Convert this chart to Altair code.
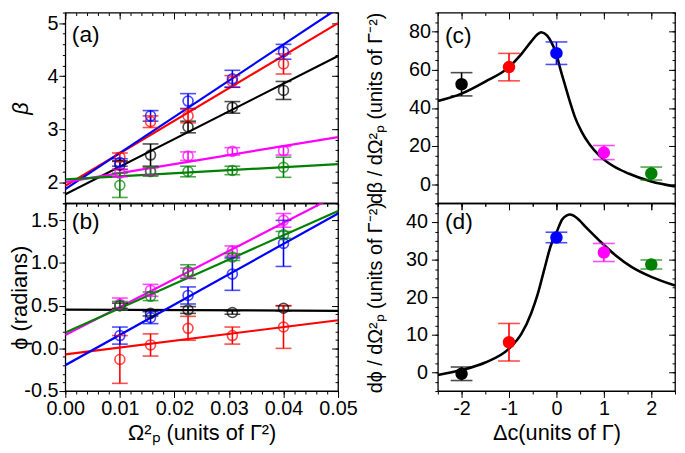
import altair as alt
import pandas as pd

FONT = "Liberation Sans"

# ---------------- data ----------------
OMEGA_P2 = [0.01, 0.015625, 0.0225, 0.030625, 0.04]
SERIES = ["black", "red", "blue", "magenta", "green"]
SERIES_COLORS = ["#000000", "#ff0000", "#0000ff", "#ff00ff", "#008000"]
DELTA_C = [-2, -1, 0, 1, 2]

# panel (a): beta
BETA_BLACK = [2.32, 2.51, 3.04, 3.41, 3.73]
BETA_RED = [2.47, 3.14, 3.25, 3.90, 4.23]
BETA_BLUE = [2.37, 3.25, 3.53, 3.95, 4.46]
BETA_MAGENTA = [2.17, 2.20, 2.49, 2.58, 2.59]
BETA_GREEN = [1.94, 2.20, 2.20, 2.22, 2.28]
BETA_ERR_BLACK = [0.08, 0.21, 0.11, 0.11, 0.17]
BETA_ERR_RED = [0.08, 0.11, 0.13, 0.11, 0.19]
BETA_ERR_BLUE = [0.07, 0.10, 0.14, 0.16, 0.14]
BETA_ERR_MAGENTA = [0.07, 0.07, 0.08, 0.07, 0.08]
BETA_ERR_GREEN = [0.23, 0.09, 0.10, 0.08, 0.19]

FIT_X = [0.0, 0.05]
BETA_FIT_BLACK = [1.77, 4.38]
BETA_FIT_RED = [1.93, 5.00]
BETA_FIT_BLUE = [1.87, 5.28]
BETA_FIT_MAGENTA = [2.00, 2.85]
BETA_FIT_GREEN = [2.05, 2.34]

# panel (b): phi
PHI_BLACK = [0.50, 0.41, 0.45, 0.42, 0.47]
PHI_RED = [-0.13, 0.04, 0.235, 0.15, 0.25]
PHI_BLUE = [0.15, 0.36, 0.62, 0.87, 1.23]
PHI_MAGENTA = [0.52, 0.68, 0.88, 1.14, 1.50]
PHI_GREEN = [0.50, 0.61, 0.90, 1.07, 1.33]
PHI_ERR_BLACK = [0.03, 0.03, 0.04, 0.02, 0.03]
PHI_ERR_RED = [0.28, 0.13, 0.14, 0.10, 0.25]
PHI_ERR_BLUE = [0.10, 0.07, 0.10, 0.19, 0.27]
PHI_ERR_MAGENTA = [0.07, 0.07, 0.06, 0.06, 0.08]
PHI_ERR_GREEN = [0.05, 0.05, 0.08, 0.04, 0.04]
PHI_FIT_BLACK = [0.455, 0.44]
PHI_FIT_RED = [-0.07, 0.33]
PHI_FIT_BLUE = [-0.197, 1.58]
PHI_FIT_MAGENTA = [0.155, 1.80]
PHI_FIT_GREEN = [0.186, 1.61]

# panel (c): d beta / d Omega^2
DBETA = [52.4, 61.4, 68.7, 16.6, 5.6]
DBETA_ERR = [6.1, 7.2, 5.9, 3.7, 3.4]
CURVE_C_X = [-2.5, -2.0, -1.5, -1.0, -0.74, -0.53, -0.4, -0.32, -0.2, -0.1,
             0.0, 0.08, 0.19, 0.29, 0.39, 0.53, 0.70, 0.91, 1.18, 1.52, 2.0, 2.5]
CURVE_C_Y = [43.6, 47.5, 53.8, 61.4, 68.2, 74.9, 78.6, 79.7, 78.0, 74.1,
             68.2, 60.6, 51.2, 42.8, 35.2, 27.6, 20.8, 14.9, 9.8, 5.6, 1.4, -1.2]

# panel (d): d phi / d Omega^2
DPHI = [-0.4, 8.0, 35.9, 31.9, 28.7]
DPHI_ERR = [1.8, 5.0, 1.4, 2.4, 1.2]
CURVE_D_X = [-2.5, -2.0, -1.5, -1.0, -0.74, -0.53, -0.4, -0.26, -0.12, 0.0,
             0.12, 0.22, 0.29, 0.43, 0.63, 0.91, 1.25, 1.59, 2.0, 2.5]
CURVE_D_Y = [-0.7, 0.6, 2.6, 6.3, 10.2, 15.8, 20.6, 27.2, 33.7, 37.2,
             40.7, 41.8, 42.0, 41.1, 38.5, 35.0, 31.1, 28.0, 25.4, 23.1]

# tick values
X_MAJOR_AB = [0.0, 0.01, 0.02, 0.03, 0.04, 0.05]
X_MINOR_AB = [round(0.002 * i, 3) for i in range(26)]
Y_MAJOR_A = [2, 3, 4, 5]
Y_MINOR_A = [round(1.6 + 0.2 * i, 1) for i in range(19)]
Y_MAJOR_B = [-0.5, 0.0, 0.5, 1.0, 1.5]
Y_MINOR_B = [round(-0.5 + 0.1 * i, 1) for i in range(23)]
X_MAJOR_CD = [-2, -1, 0, 1, 2]
X_MINOR_CD = [-2.5 + 0.5 * i for i in range(11)]
Y_MAJOR_C = [0, 20, 40, 60, 80]
Y_MINOR_C = [-10 + 5 * i for i in range(21)]
Y_MAJOR_D = [0, 10, 20, 30, 40]
Y_MINOR_D = [-5 + 2.5 * i for i in range(21)]


def points_frame(xs, names, ys_list, errs_list):
    rows = []
    for name, ys, es in zip(names, ys_list, errs_list):
        for x, y, e in zip(xs, ys, es):
            rows.append({"x": x, "y": y, "lo": y - e, "hi": y + e, "s": name})
    return pd.DataFrame(rows)


def fits_frame(names, fits):
    rows = []
    for name, ys in zip(names, fits):
        for x, y in zip(FIT_X, ys):
            rows.append({"x": x, "y": y, "s": name})
    return pd.DataFrame(rows)


pts_a = points_frame(OMEGA_P2, SERIES,
                     [BETA_BLACK, BETA_RED, BETA_BLUE, BETA_MAGENTA, BETA_GREEN],
                     [BETA_ERR_BLACK, BETA_ERR_RED, BETA_ERR_BLUE, BETA_ERR_MAGENTA, BETA_ERR_GREEN])
fit_a = fits_frame(SERIES, [BETA_FIT_BLACK, BETA_FIT_RED, BETA_FIT_BLUE, BETA_FIT_MAGENTA, BETA_FIT_GREEN])
pts_b = points_frame(OMEGA_P2, SERIES,
                     [PHI_BLACK, PHI_RED, PHI_BLUE, PHI_MAGENTA, PHI_GREEN],
                     [PHI_ERR_BLACK, PHI_ERR_RED, PHI_ERR_BLUE, PHI_ERR_MAGENTA, PHI_ERR_GREEN])
fit_b = fits_frame(SERIES, [PHI_FIT_BLACK, PHI_FIT_RED, PHI_FIT_BLUE, PHI_FIT_MAGENTA, PHI_FIT_GREEN])
pts_c = pd.DataFrame({"x": DELTA_C, "y": DBETA,
                      "lo": [v - e for v, e in zip(DBETA, DBETA_ERR)],
                      "hi": [v + e for v, e in zip(DBETA, DBETA_ERR)], "s": SERIES})
pts_d = pd.DataFrame({"x": DELTA_C, "y": DPHI,
                      "lo": [v - e for v, e in zip(DPHI, DPHI_ERR)],
                      "hi": [v + e for v, e in zip(DPHI, DPHI_ERR)], "s": SERIES})
curve_c = pd.DataFrame({"x": CURVE_C_X, "y": CURVE_C_Y, "s": "fit"})
curve_d = pd.DataFrame({"x": CURVE_D_X, "y": CURVE_D_Y, "s": "fit"})

MAJOR = 6.5
MINOR = 3.0


# ---------------- axes helpers ----------------
def out_ticks(orient, values, size):
    return alt.Axis(orient=orient, values=values, ticks=True, tickSize=size, tickColor="black",
                    tickWidth=1, labels=False, domain=False, grid=False, title=None)


def in_ticks(orient, values, size):
    return alt.Axis(orient=orient, values=values, ticks=True, tickSize=size, offset=-size,
                    tickColor="black", tickWidth=1, labels=False, domain=False, grid=False,
                    title=None, minExtent=0)


def lab_axis(orient, values, fmt, title, pos, tsize=22, style="normal", pad=1):
    kw = dict(orient=orient, values=values, format=fmt, title=title, ticks=True, tickSize=MAJOR,
              tickColor="black", tickWidth=1, domain=False, grid=False, labels=True,
              labelExpr="replace(datum.label, '\u2212', '-')",
              labelFontSize=20, labelColor="black", labelPadding=pad, labelFlush=False,
              labelOverlap=False, labelFont=FONT, titleFont=FONT, titleFontSize=tsize,
              titleFontWeight="normal", titleFontStyle=style, titleColor="black",
              titleBaseline="middle")
    if orient == "left":
        kw["titleX"] = pos
    else:
        kw["titleY"] = pos
    return alt.Axis(**kw)


def panel(pts, line_df, xdom, ydom, w, h, xaxes, yaxes, cap, filled, label, lx, ly, curve):
    xsc = alt.Scale(domain=xdom, nice=False, zero=False)
    ysc = alt.Scale(domain=ydom, nice=False, zero=False)
    col = alt.Color("s:N", scale=alt.Scale(domain=SERIES, range=SERIES_COLORS), legend=None)

    def X(i, f="x"):
        return alt.X(f, type="quantitative", scale=xsc, axis=xaxes[i] if i < len(xaxes) else None)

    def Y(i, f):
        return alt.Y(f, type="quantitative", scale=ysc, axis=yaxes[i] if i < len(yaxes) else None)

    if curve:
        line = alt.Chart(line_df).mark_line(color="black", strokeWidth=2.6,
                                            interpolate="monotone", clip=True).encode(
            x=X(0), y=Y(0, "y"))
    else:
        line = alt.Chart(line_df).mark_line(strokeWidth=2.2, clip=True).encode(
            x=X(0), y=Y(0, "y"), color=col, detail="s:N")
    rules = alt.Chart(pts).mark_rule(strokeWidth=1.6).encode(
        x=X(1), y=Y(1, "lo"), y2="hi:Q", color=col)
    cap_lo = alt.Chart(pts).mark_tick(orient="horizontal", size=cap, thickness=1.6).encode(
        x=X(2), y=Y(2, "lo"), color=col)
    cap_hi = alt.Chart(pts).mark_tick(orient="horizontal", size=cap, thickness=1.6).encode(
        x=X(3), y=Y(3, "hi"), color=col)
    if filled:
        dots = alt.Chart(pts).mark_circle(size=160, opacity=1).encode(
            x=X(9), y=Y(9, "y"), color=col)
    else:
        dots = alt.Chart(pts).mark_point(shape="circle", filled=False, size=100,
                                         strokeWidth=1.7).encode(
            x=X(9), y=Y(9, "y"), color=col)
    txt = alt.Chart(pd.DataFrame({"x": [lx], "y": [ly], "t": [label]})).mark_text(
        align="left", baseline="middle", fontSize=23, font=FONT, color="black").encode(
        x=X(9), y=Y(9, "y"), text="t:N")
    return alt.layer(line, rules, cap_lo, cap_hi, dots, txt).resolve_axis(
        x="independent", y="independent").properties(width=w, height=h)


W_L, W_R = 276, 240
H_TOP, H_BOT = 193, 190

pa = panel(pts_a, fit_a, [0, 0.05], [1.6, 5.2], W_L, H_TOP,
           [out_ticks("bottom", X_MAJOR_AB, MAJOR), out_ticks("bottom", X_MINOR_AB, MINOR),
            in_ticks("top", X_MAJOR_AB, MAJOR), in_ticks("top", X_MINOR_AB, MINOR)],
           [lab_axis("left", Y_MAJOR_A, "d", "β", -45, style="italic"),
            out_ticks("left", Y_MINOR_A, MINOR),
            in_ticks("right", Y_MAJOR_A, MAJOR), in_ticks("right", Y_MINOR_A, MINOR)],
           16, False, "(a)", 0.0012, 4.78, False)

pb = panel(pts_b, fit_b, [0, 0.05], [-0.5, 1.7], W_L, H_BOT,
           [lab_axis("bottom", X_MAJOR_AB, ".2f", "Ω²ₚ (units of Γ²)", 42),
            out_ticks("bottom", X_MINOR_AB, MINOR),
            in_ticks("top", X_MAJOR_AB, MAJOR), in_ticks("top", X_MINOR_AB, MINOR)],
           [lab_axis("left", Y_MAJOR_B, ".1f", "ϕ (radians)", -46),
            out_ticks("left", Y_MINOR_B, MINOR),
            in_ticks("right", Y_MAJOR_B, MAJOR), in_ticks("right", Y_MINOR_B, MINOR)],
           16, False, "(b)", 0.0012, 1.48, False)

pc = panel(pts_c, curve_c, [-2.5, 2.5], [-10, 90], W_R, H_TOP,
           [out_ticks("bottom", X_MAJOR_CD, MAJOR), out_ticks("bottom", X_MINOR_CD, MINOR),
            in_ticks("top", X_MAJOR_CD, MAJOR), in_ticks("top", X_MINOR_CD, MINOR)],
           [lab_axis("left", Y_MAJOR_C, "d", "dβ / dΩ²ₚ (units of Γ⁻²)", -63, tsize=20, pad=1),
            out_ticks("left", Y_MINOR_C, MINOR),
            in_ticks("right", Y_MAJOR_C, MAJOR), in_ticks("right", Y_MINOR_C, MINOR)],
           22, True, "(c)", -2.35, 77.5, True)

pd_ = panel(pts_d, curve_d, [-2.5, 2.5], [-5, 45], W_R, H_BOT,
            [lab_axis("bottom", X_MAJOR_CD, "d", "Δc(units of Γ)", 42),
             out_ticks("bottom", X_MINOR_CD, MINOR),
             in_ticks("top", X_MAJOR_CD, MAJOR), in_ticks("top", X_MINOR_CD, MINOR)],
            [lab_axis("left", Y_MAJOR_D, "d", "dϕ / dΩ²ₚ (units of Γ⁻²)", -63, tsize=20, pad=4),
             out_ticks("left", Y_MINOR_D, MINOR),
             in_ticks("right", Y_MAJOR_D, MAJOR), in_ticks("right", Y_MINOR_D, MINOR)],
            22, True, "(d)", -2.35, 40.0, True)

chart = alt.concat(pa, pc, pb, pd_, columns=2,
                   spacing={"row": 0, "column": 101}, bounds="flush").properties(
    padding=0
).configure(font=FONT).configure_view(stroke="black", strokeWidth=1.3)

chart.save("out.html", embed_options={"renderer": "svg", "actions": False})
